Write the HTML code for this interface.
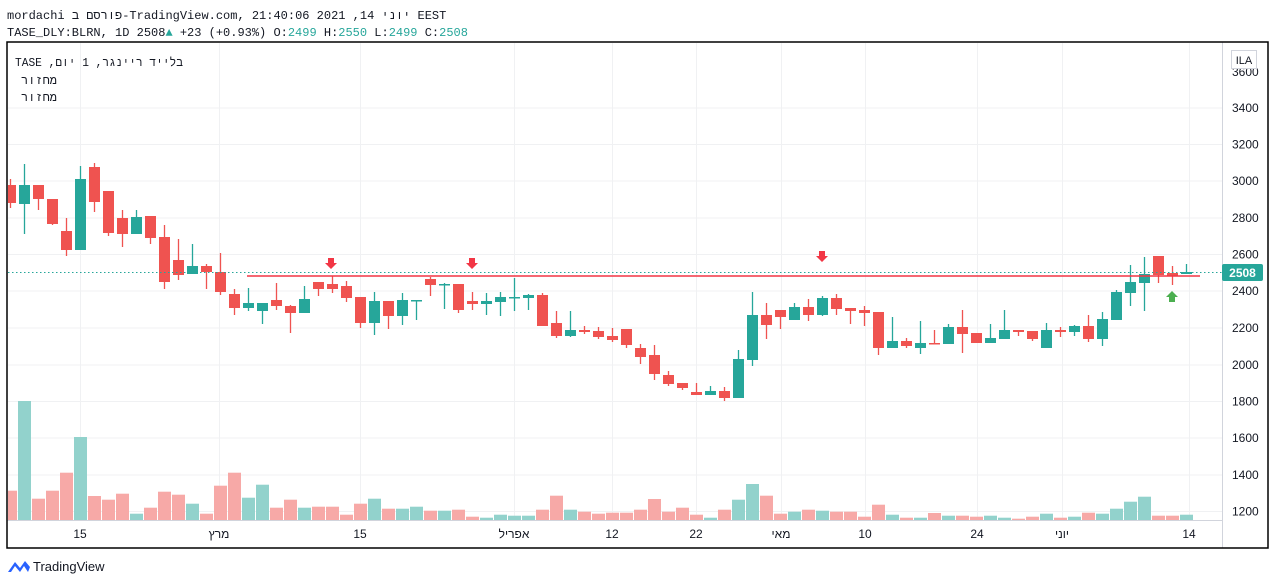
<!DOCTYPE html>
<html><head><meta charset="utf-8"><style>
html,body{margin:0;padding:0;background:#fff;}
svg{display:block;}
.m{font-family:"Liberation Mono","Noto Sans CJK JP",monospace;}
.s{font-family:"Liberation Sans","Noto Sans CJK JP",sans-serif;}
</style></head><body>
<svg id="s" width="1274" height="585" viewBox="0 0 1274 585" xmlns="http://www.w3.org/2000/svg">
<defs><clipPath id="cp"><rect x="8" y="43" width="1214" height="477"/></clipPath></defs>
<rect width="1274" height="585" fill="#fff"/>
<text class="m" x="7" y="19" font-size="12" fill="#131722">mordachi פורסם ב-TradingView.com, יוני 14, 2021 21:40:06 EEST</text>
<text class="m" x="7" y="36" font-size="12" fill="#131722">TASE_DLY:BLRN, 1D 2508<tspan fill="#26a69a">▲</tspan> +23 (+0.93%) O:<tspan fill="#26a69a">2499</tspan> H:<tspan fill="#26a69a">2550</tspan> L:<tspan fill="#26a69a">2499</tspan> C:<tspan fill="#26a69a">2508</tspan></text>
<g id="grid" stroke="#f0f1f3" stroke-width="1"></g>
<g clip-path="url(#cp)">
<g id="vol"></g>
<g id="cnd"></g>
</g>
<line x1="8" y1="272.5" x2="1222" y2="272.5" stroke="#26a69a" stroke-width="1" stroke-dasharray="1.5,2.5"/>
<line x1="247" y1="276" x2="1200" y2="276" stroke="#f23645" stroke-width="1.5"/>
<g fill="#f23645">
<path d="M328,258h6v5h3l-6,6l-6,-6h3z"/>
<path d="M469,258h6v5h3l-6,6l-6,-6h3z"/>
<path d="M819,251h6v5h3l-6,6l-6,-6h3z"/>
</g>
<path d="M1169,302h6v-5h3l-6,-6l-6,6h3z" fill="#4caf50"/>
<line x1="7" y1="520.5" x2="1222" y2="520.5" stroke="#d1d4dc"/>
<line x1="1222.5" y1="42" x2="1222.5" y2="548" stroke="#d1d4dc"/>
<rect x="7" y="42" width="1261" height="506" fill="none" stroke="#000" stroke-width="1.5"/>
<g id="plab" font-size="12" fill="#131722" class="s"></g>
<rect x="1231.5" y="50.5" width="25" height="18" fill="#fff" stroke="#d1d4dc"/>
<text class="s" x="1244" y="64" font-size="11" text-anchor="middle" fill="#131722">ILA</text>
<rect x="1222" y="264" width="41" height="17" rx="2" fill="#26a69a"/>
<text class="s" x="1242.5" y="277" font-size="12" font-weight="bold" text-anchor="middle" fill="#fff">2508</text>
<text class="m" x="15" y="66" font-size="12" fill="#131722" text-anchor="start" textLength="168" lengthAdjust="spacingAndGlyphs">TASE ,בלייד ריינגר, 1 יום</text>
<text class="m" x="57" y="84" font-size="12" fill="#131722" text-anchor="end">מחזור</text>
<text class="m" x="57" y="101" font-size="12" fill="#131722" text-anchor="end">מחזור</text>
<g id="tlab" font-size="12" fill="#131722" text-anchor="middle" class="s"></g>
<g transform="translate(8,558)">
<path d="M0,14 L7,4 L12,10 L17,3 L22,9 L20,14 L16,8 L12,14 L7,8 L3,14z" fill="#2962ff"/>
</g>
<text class="s" x="33" y="571" font-size="13" fill="#131722">TradingView</text>
</svg>
<script>
var NS="http://www.w3.org/2000/svg";
function el(p,t,a){var e=document.createElementNS(NS,t);for(var k in a)e.setAttribute(k,a[k]);document.getElementById(p).appendChild(e);return e;}
var prices=[[3600,72],[3400,108],[3200,144.5],[3000,181],[2800,218],[2600,254.5],[2400,291],[2200,328],[2000,365],[1800,401.5],[1600,438],[1400,475],[1200,511.5]];
prices.forEach(function(p){ if(p[0]!=3600) el("grid","line",{x1:8,x2:1222,y1:p[1],y2:p[1]});
 var t=el("plab","text",{x:1232,y:p[1]+4});t.textContent=p[0];});
var tl=[[80,"15"],[219,"מרץ"],[360,"15"],[514,"אפריל"],[612,"12"],[696,"22"],[781,"מאי"],[865,"10"],[977,"24"],[1062,"יוני"],[1189,"14"]];
tl.forEach(function(t){el("grid","line",{x1:t[0]+.5,x2:t[0]+.5,y1:43,y2:520});var e=el("tlab","text",{x:t[0],y:538});e.textContent=t[1];});
var C=[
"r185,203,179,208","g185,204,164,234","r185,199,185,210","r199,224,199,225","r231,250,218,256","g179,250,166,250","r167,202,163,212","r191,233,191,236","r218,234,210,247","g217,234,210,234",
"r216,238,216,244","r237,282,225,289","r260,275,239,280","g266,274,244,274","r266,272,264,289","r272,292,253,295","r294,308,289,315","g303,308,288,311","g303,311,303,324","r300,306,283,310",
"r306,313,305,333","g299,313,286,313","r282,289,282,296","r284,289,276,293","r286,298,281,302","r297,323,297,328","g301,323,292,335","r301,316,301,329","g300,316,293,325","g300,301,300,320",
"r279,285,277,296","g284,285,283,309","r284,310,284,313","r301,304,292,310","g301,304,293,315","g297,302,292,316","g297,298,278,311","g295,298,294,310","r295,326,293,326","r323,336,311,338",
"g330,336,311,337","r330,332,326,334","r331,337,327,339","r336,340,328,342","r329,345,329,348","r348,357,344,364","r355,374,345,380","r375,384,371,386","r383,388,383,390","r392,395,383,395",
"g391,395,386,395","r391,398,387,401","g359,398,350,398","g315,360,292,366","r315,325,303,339","r310,317,310,329","g307,320,303,320","r307,315,299,321","g298,315,296,316","r298,309,294,315",
"r308,311,308,324","r310,313,306,326","r312,348,312,355","g341,348,317,348","r341,346,338,348","g343,348,321,354","r343,344,330,344","g327,344,324,344","r327,334,310,353","r333,343,333,343",
"g338,343,324,343","g330,339,310,339","r330,332,330,336","r331,339,331,341","g330,348,323,348","r330,332,327,337","g326,332,325,336","r326,339,315,342","g319,339,312,346","g292,320,290,320",
"g282,293,265,306","g274,283,257,311","r256,275,256,283","r273,276,266,285","g272,274,264,274"];
var V=[490.7,401,498.7,490.7,472.7,437,496,499.7,493.7,513.7,507.7,491.7,494.7,503.7,513.7,485.7,472.7,497.7,484.7,507.7,499.7,507.7,506.7,506.7,514.7,503.7,498.7,508.7,508.7,506.7,510.7,510.7,509.7,516.7,517.7,514.7,515.7,515.7,509.7,495.7,509.7,511.7,513.7,512.7,
512.7,509.7,499,511.7,507.7,514.7,517.7,509.7,499.7,484,495.7,513.7,511.7,509.7,510.7,511.7,511.7,516.7,504.7,514.7,517.7,517.7,513,515.7,515.7,516.7,515.7,517.7,518.7,516.7,513.7,517.7,516.7,512.7,513.7,508.7,501.7,496.7,515.7,515.7,514.7];
C.forEach(function(s,i){var g=s[0]=="g",a=s.slice(1).split(",").map(Number);var x=10.5+14*i;var col=g?"#26a69a":"#ef5350";
 var vt=V[i];el("vol","rect",{x:x-6.5,y:vt,width:13,height:520-vt,fill:g?"#92d2cc":"#f7a9a7"});
 el("cnd","line",{x1:x,x2:x,y1:a[2],y2:a[3],stroke:col,"stroke-width":1.3});
 el("cnd","rect",{x:x-5.5,y:a[0],width:11,height:Math.max(1.5,a[1]-a[0]),fill:col});});
</script>
</body></html>
